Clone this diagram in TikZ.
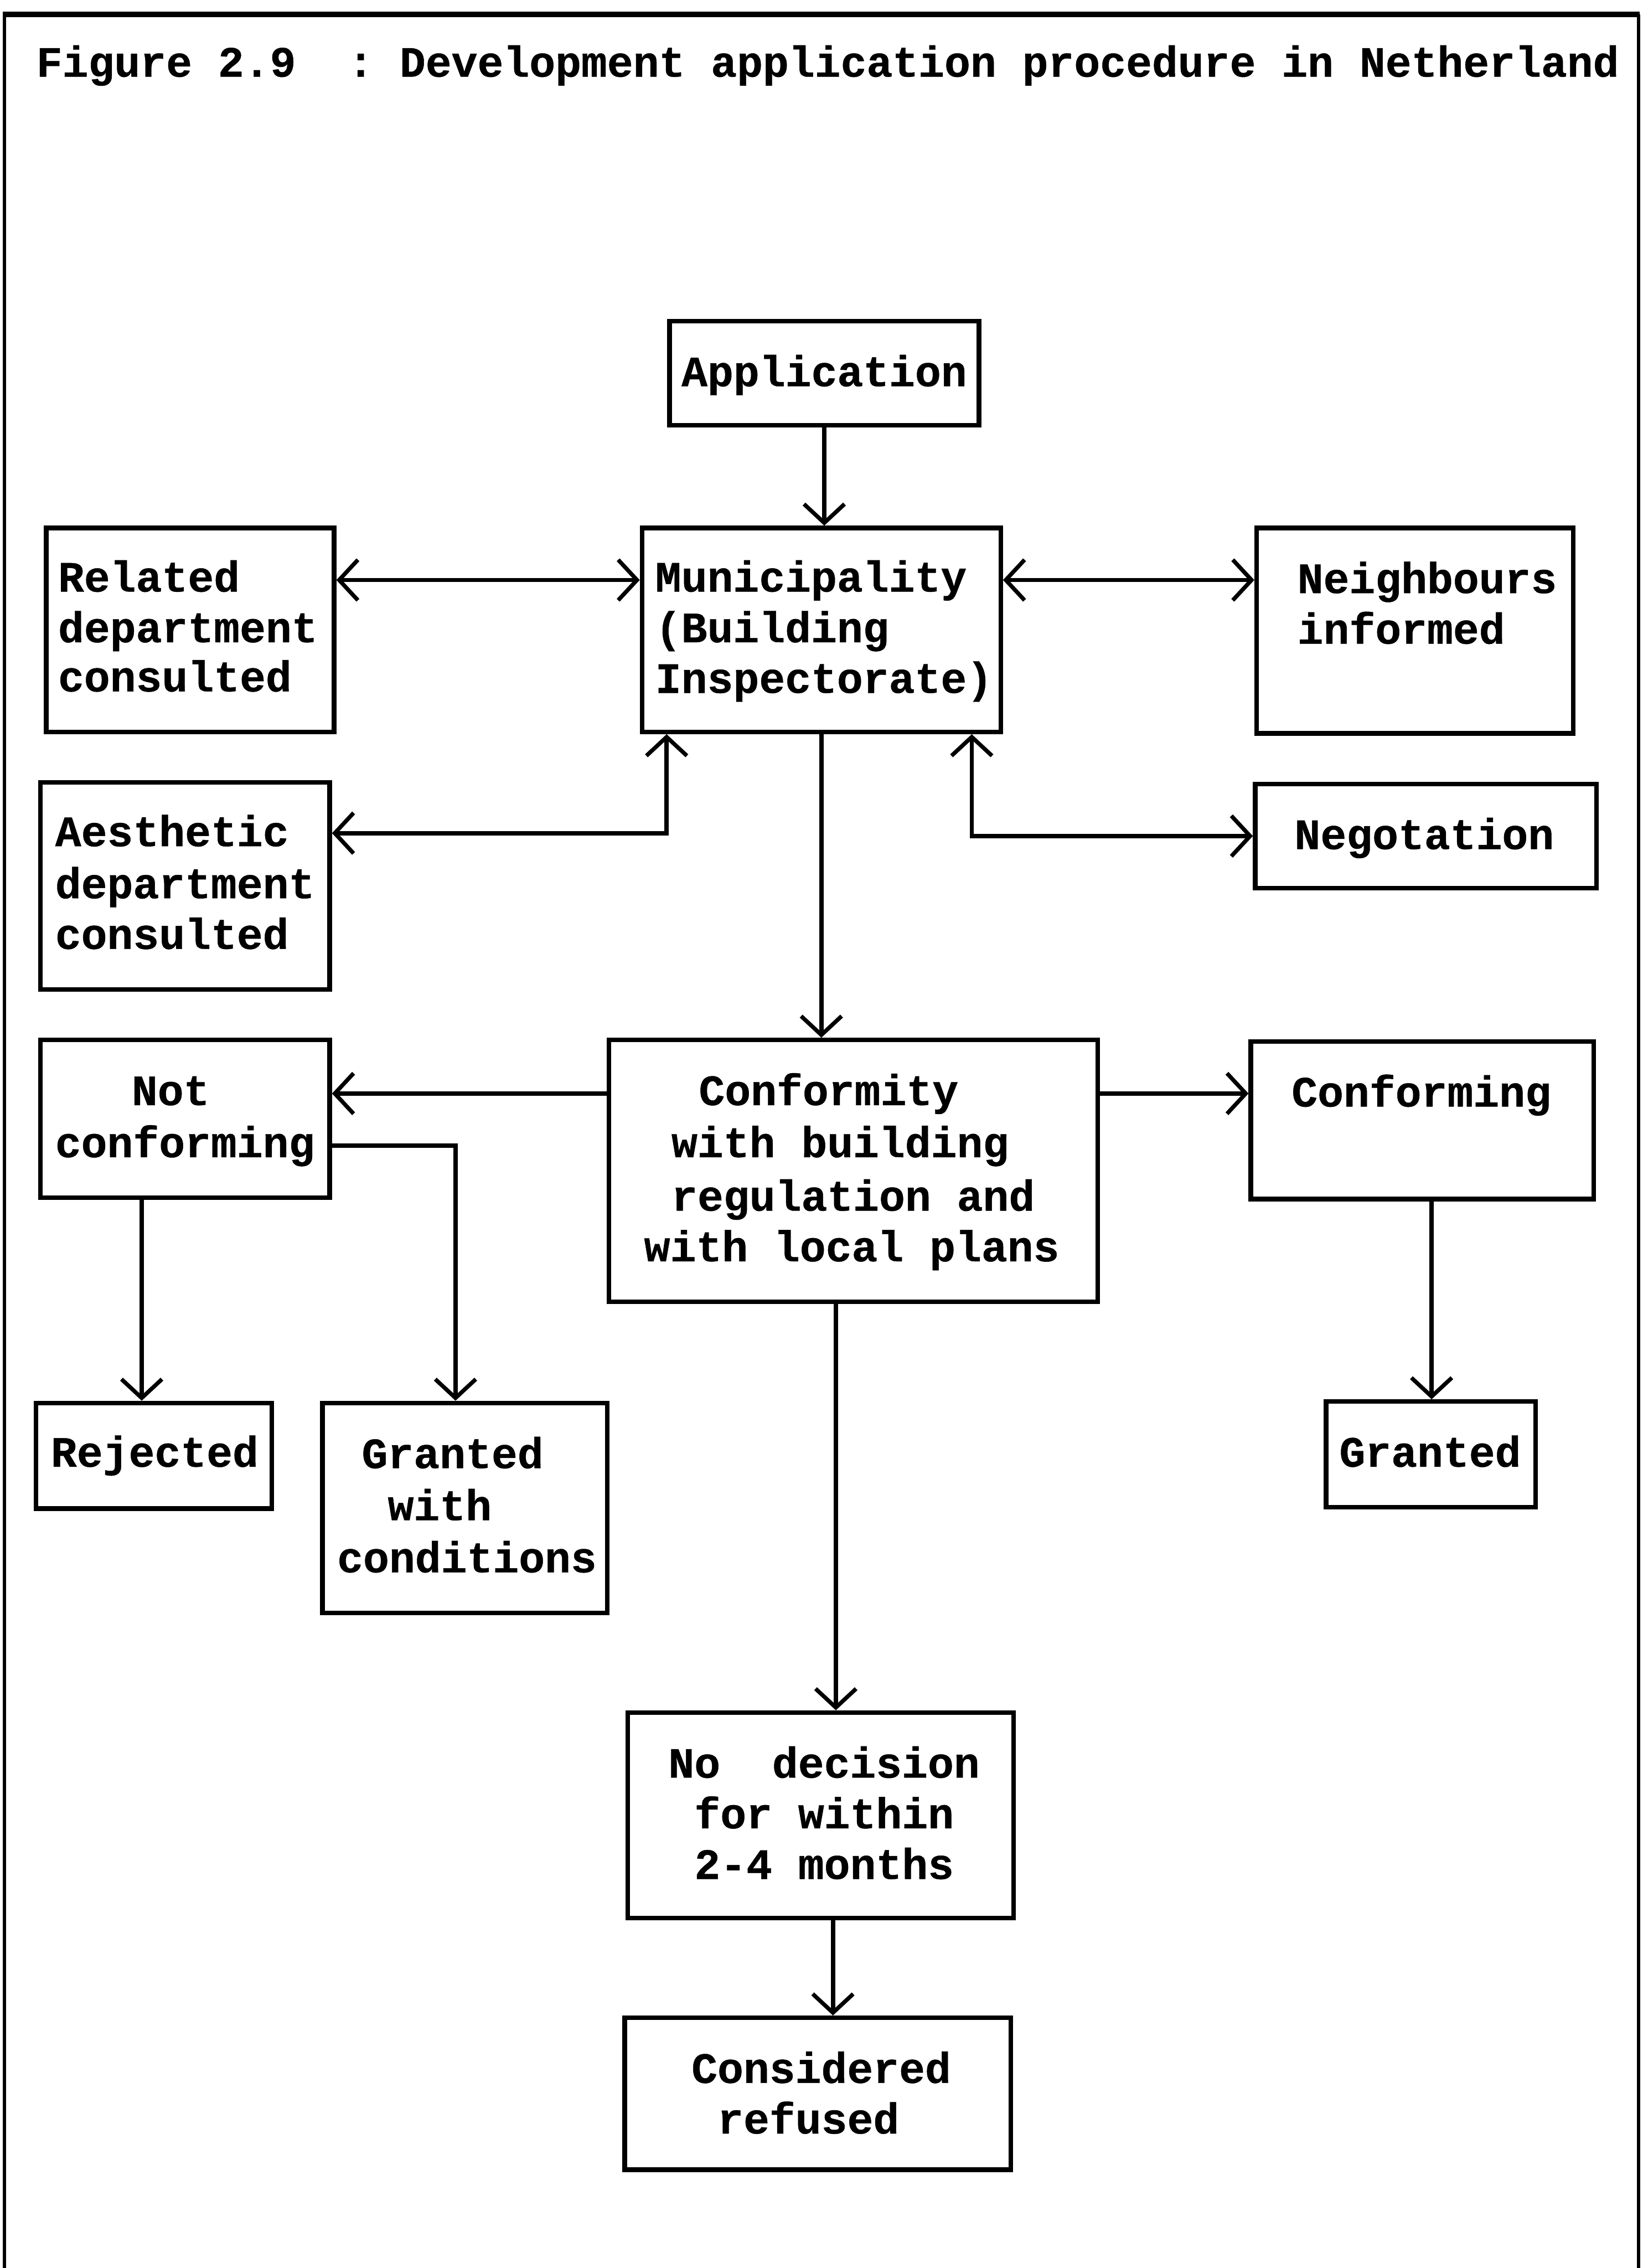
\documentclass[tikz,border=0pt]{standalone}
\usepackage{fontspec}
\setmonofont{Liberation Mono}[BoldFeatures={FakeBold=0.6}]
\usetikzlibrary{arrows.meta}
\begin{document}
\begin{tikzpicture}[x=1pt,y=-1pt,
  box/.style={draw, line width=3.2pt, rectangle, inner sep=0pt},
  txt/.style={font=\fontsize{29.9}{35.5}\selectfont\ttfamily\bfseries, inner sep=0pt},
  lt/.style={txt, anchor=base west},
  ct/.style={txt, anchor=base},
  tipb/.tip={Straight Barb[length=13pt,width=28pt,line width=2.8pt]},
  link/.style={line width=3pt, -tipb},
  both/.style={line width=3pt, tipb-tipb},
  frame/.style={line width=2.4pt}
]
\useasboundingbox (0,0) rectangle (1136,1568);

% outer frame, open at the bottom
\draw[frame] (3,1568) -- (3,10);
\draw[frame, line width=3.8pt] (2,10) -- (1134,10);
\draw[frame] (1133,10) -- (1133,1568);

% heading
\node[lt] (title) at (25,53) {Figure 2.9\ \ : Development application procedure in Netherland};

% boxes
\node[box, minimum width=214pt, minimum height=72pt]  (app)  at (570,258) {};
\node[box, minimum width=248pt, minimum height=141pt] (mun)  at (568,435.5) {};
\node[box, minimum width=199pt, minimum height=141pt] (rel)  at (131.5,435.5) {};
\node[box, minimum width=219pt, minimum height=142pt] (nei)  at (978.5,436) {};
\node[box, minimum width=200pt, minimum height=143pt] (aes)  at (128,612.5) {};
\node[box, minimum width=236pt, minimum height=72pt]  (neg)  at (986,578) {};
\node[box, minimum width=200pt, minimum height=109pt] (notc) at (128,773.5) {};
\node[box, minimum width=338pt, minimum height=181pt] (conf) at (590,809.5) {};
\node[box, minimum width=237pt, minimum height=109pt] (cing) at (983.5,774.5) {};
\node[box, minimum width=163pt, minimum height=73pt]  (rej)  at (106.5,1006.5) {};
\node[box, minimum width=197pt, minimum height=145pt] (gwc)  at (321.5,1042.5) {};
\node[box, minimum width=145pt, minimum height=73pt]  (gr)   at (989.5,1005.5) {};
\node[box, minimum width=267pt, minimum height=142pt] (nod)  at (567.5,1255) {};
\node[box, minimum width=267pt, minimum height=105pt] (ref)  at (565.5,1447.5) {};

% box texts
\node[ct] (t-app) at (570,267) {Application};

\node[lt] (t-mun1) at (453,409) {Municipality};
\node[lt] (t-mun2) at (453,444) {(Building};
\node[lt] (t-mun3) at (453,479) {Inspectorate)};

\node[lt] (t-rel1) at (40,409) {Related};
\node[lt] (t-rel2) at (40,444) {department};
\node[lt] (t-rel3) at (40,478) {consulted};

\node[lt] (t-nei1) at (897,410) {Neighbours};
\node[lt] (t-nei2) at (897,445) {informed};

\node[lt] (t-aes1) at (38,585) {Aesthetic};
\node[lt] (t-aes2) at (38,621) {department};
\node[lt] (t-aes3) at (38,656) {consulted};

\node[lt] (t-neg) at (895,587) {Negotation};

\node[ct] (t-notc1) at (118,764) {Not};
\node[lt] (t-notc2) at (38,800) {conforming};

\node[ct] (t-conf1) at (573,764) {Conformity};
\node[ct] (t-conf2) at (581,800) {with building};
\node[ct] (t-conf3) at (590,837) {regulation and};
\node[ct] (t-conf4) at (589,872) {with local plans};

\node[lt] (t-cing) at (893,765) {Conforming};

\node[lt] (t-rej) at (35,1014) {Rejected};

\node[lt] (t-gwc1) at (250,1015) {Granted};
\node[lt] (t-gwc2) at (268,1051) {with};
\node[lt] (t-gwc3) at (233,1087) {conditions};

\node[lt] (t-gr) at (926,1014) {Granted};

\node[lt] (t-nod1) at (462,1229) {No\ \ decision};
\node[lt] (t-nod2) at (480,1264) {for within};
\node[lt] (t-nod3) at (480,1299) {2-4 months};

\node[lt] (t-ref1) at (478,1440) {Considered};
\node[lt] (t-ref2) at (496,1475) {refused};

% connectors
\draw[link] (app.south) -- (app.south |- mun.north);
\draw[both] ([yshift=34.5pt]rel.east) -- ([yshift=34.5pt]rel.east -| mun.west);
\draw[both] ([yshift=34.5pt]mun.east) -- ([yshift=34.5pt]mun.east -| nei.west);
\draw[both] ([xshift=-107pt]mun.south) |- ([yshift=36.5pt]aes.east);
\draw[both] ([xshift=104pt]mun.south) |- (neg.west);
\draw[link] (mun.south) -- (mun.south |- conf.north);
\draw[link] ([yshift=53.5pt]conf.west) -- ([yshift=53.5pt]conf.west -| notc.east);
\draw[link] ([yshift=53.5pt]conf.east) -- ([yshift=53.5pt]conf.east -| cing.west);
\draw[link] ([xshift=-30pt]notc.south) -- ([xshift=-30pt]notc.south |- rej.north);
\draw[link] ([yshift=-18.5pt]notc.east) -| ([xshift=-6.5pt]gwc.north);
\draw[link] ([xshift=6.5pt]cing.south) -- ([xshift=6.5pt]cing.south |- gr.north);
\draw[link] ([xshift=-12pt]conf.south) -- ([xshift=-12pt]conf.south |- nod.north);
\draw[link] ([xshift=8.5pt]nod.south) -- ([xshift=8.5pt]nod.south |- ref.north);
\end{tikzpicture}
\end{document}
